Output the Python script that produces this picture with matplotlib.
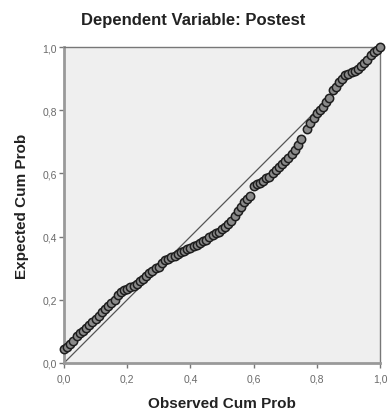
import matplotlib
matplotlib.use('Agg')
import matplotlib.pyplot as plt

# P-P plot of regression standardized residual
observed_cum_prob = [0.00, 0.01, 0.02, 0.03, 0.04, 0.05, 0.06, 0.07, 0.08, 0.09,
                     0.10, 0.11, 0.12, 0.13, 0.14, 0.15, 0.16, 0.17, 0.18, 0.19,
                     0.20, 0.21, 0.22, 0.23, 0.24, 0.25, 0.26, 0.27, 0.28, 0.29,
                     0.30, 0.31, 0.32, 0.33, 0.34, 0.35, 0.36, 0.37, 0.38, 0.39,
                     0.40, 0.41, 0.42, 0.43, 0.44, 0.45, 0.46, 0.47, 0.48, 0.49,
                     0.50, 0.51, 0.52, 0.53, 0.54, 0.55, 0.56, 0.57, 0.58, 0.59,
                     0.60, 0.61, 0.62, 0.63, 0.64, 0.65, 0.66, 0.67, 0.68, 0.69,
                     0.70, 0.71, 0.72, 0.73, 0.74, 0.75, 0.77, 0.78, 0.79,
                     0.80, 0.81, 0.82, 0.83, 0.84, 0.85, 0.86, 0.87, 0.88, 0.89,
                     0.90, 0.91, 0.92, 0.93, 0.94, 0.95, 0.96, 0.97, 0.98, 0.99, 1.00]

expected_cum_prob = [0.045, 0.05, 0.06, 0.07, 0.085, 0.095, 0.10, 0.11, 0.12, 0.13,
                     0.14, 0.15, 0.16, 0.17, 0.18, 0.19, 0.20, 0.215, 0.225, 0.23,
                     0.235, 0.24, 0.245, 0.25, 0.26, 0.265, 0.275, 0.285, 0.29, 0.30,
                     0.305, 0.315, 0.325, 0.33, 0.335, 0.34, 0.345, 0.35, 0.355, 0.36,
                     0.365, 0.37, 0.375, 0.38, 0.385, 0.39, 0.40, 0.405, 0.41, 0.415,
                     0.425, 0.43, 0.44, 0.45, 0.465, 0.48, 0.495, 0.51, 0.52, 0.53,
                     0.56, 0.565, 0.57, 0.575, 0.585, 0.59, 0.60, 0.61, 0.62, 0.63,
                     0.64, 0.65, 0.66, 0.675, 0.69, 0.71, 0.74, 0.76, 0.775,
                     0.79, 0.80, 0.81, 0.825, 0.84, 0.865, 0.875, 0.89, 0.90, 0.91,
                     0.915, 0.92, 0.925, 0.93, 0.94, 0.95, 0.96, 0.975, 0.985, 0.99, 1.00]

tick_values = [0.0, 0.2, 0.4, 0.6, 0.8, 1.0]
tick_labels = ['0,0', '0,2', '0,4', '0,6', '0,8', '1,0']

plt.rcParams['font.family'] = ['Liberation Sans', 'DejaVu Sans']

fig = plt.figure(figsize=(3.89, 4.10), dpi=100)
ax = fig.add_axes([64 / 389, 46 / 410, 316 / 389, 316 / 410])
ax.set_facecolor('#efefef')

# diagonal reference line
ax.plot([0, 1], [0, 1], color='#555555', lw=0.9, zorder=2)

ax.plot(observed_cum_prob, expected_cum_prob, 'o', ms=6, mfc='#8a8a8a',
        mec='#1e1e1e', mew=1.1, zorder=3, clip_on=False)

ax.set_xlim(0, 1)
ax.set_ylim(0, 1)
ax.set_xticks(tick_values)
ax.set_xticklabels(tick_labels)
ax.set_yticks(tick_values)
ax.set_yticklabels(tick_labels)
ax.tick_params(direction='out', length=3.5, width=1, color='#777777',
               labelsize=7.5, labelcolor='#6a6a6a')
ax.tick_params(axis='x', pad=4)
ax.tick_params(axis='y', pad=1.5)

for side in ['left', 'bottom']:
    ax.spines[side].set_color('#999999')
    ax.spines[side].set_linewidth(2)
for side in ['top', 'right']:
    ax.spines[side].set_color('#777777')
    ax.spines[side].set_linewidth(1)

ax.set_xlabel('Observed Cum Prob', fontsize=11, fontweight='bold', color='#222222', labelpad=9)
ax.set_ylabel('Expected Cum Prob', fontsize=11, fontweight='bold', color='#222222', labelpad=10)
fig.text(193 / 389, 1 - 21 / 410, 'Dependent Variable: Postest',
         ha='center', va='center', fontsize=12, fontweight='bold', color='#222222')

fig.savefig('out.png', dpi=100)
